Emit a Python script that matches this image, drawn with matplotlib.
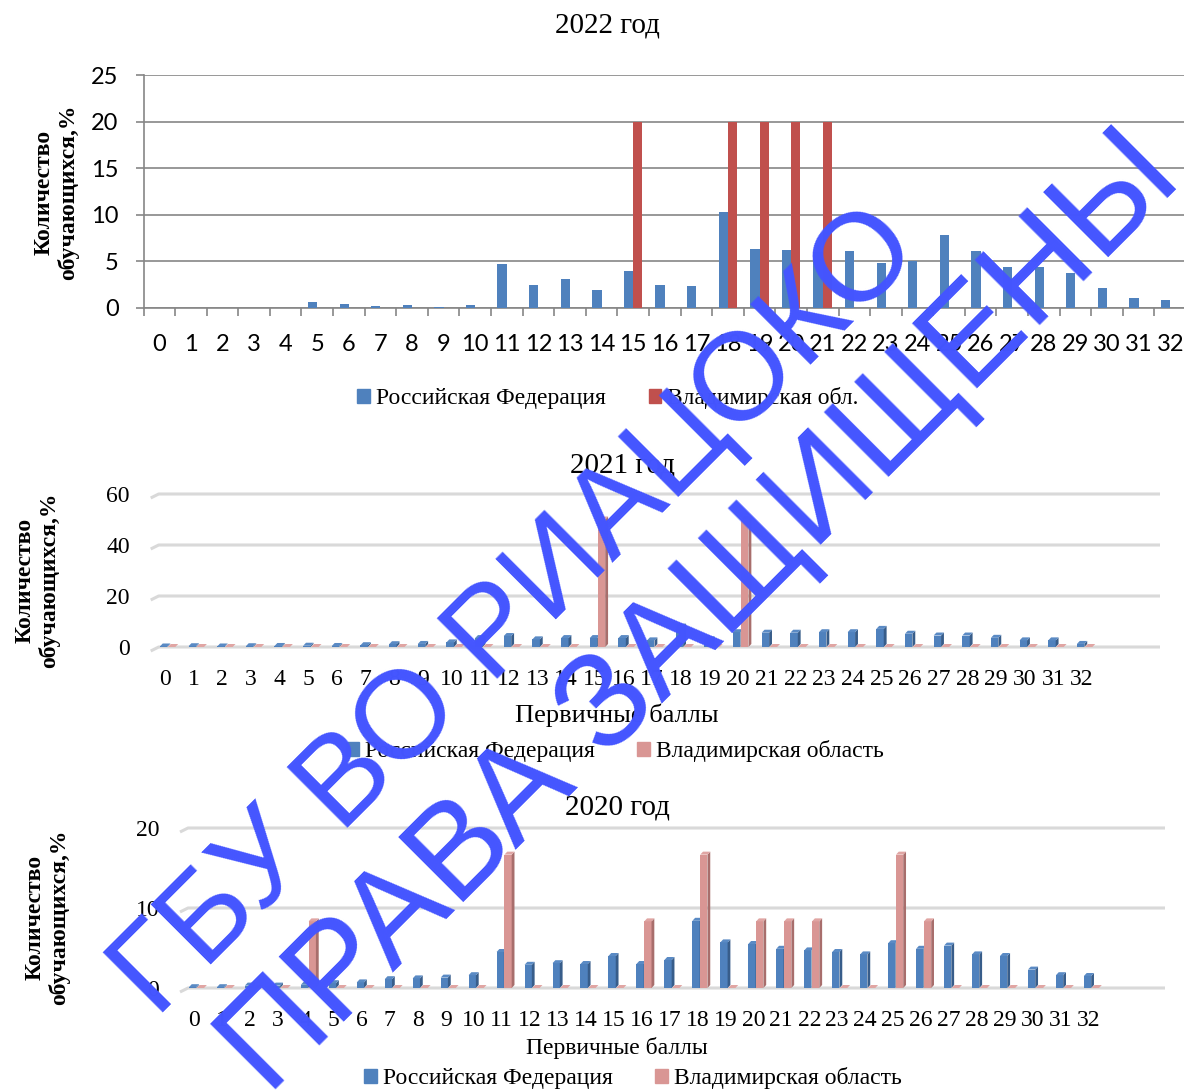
import matplotlib
matplotlib.use("Agg")
import matplotlib.pyplot as plt
from matplotlib.patches import Patch
import numpy as np

# первичные баллы 0..32
scores = list(range(33))

# доля участников, % (РФ и Владимирская область)
rf_2022 = [0, 0, 0, 0, 0, 0.64, 0.46, 0.25, 0.35, 0.14, 0.35, 4.75, 2.46, 3.07, 1.96, 4.0,
           2.42, 2.32, 10.29, 6.36, 6.18, 6.0, 6.14, 4.86, 5.0, 7.79, 6.14, 4.39, 4.39, 3.8,
           2.14, 1.03, 0.86]
vlad_2022 = [0, 0, 0, 0, 0, 0, 0, 0, 0, 0, 0, 0, 0, 0, 0, 20,
             0, 0, 20, 20, 20, 20, 0, 0, 0, 0, 0, 0, 0, 0,
             0, 0, 0]

rf_2021 = [0.2, 0.3, 0.2, 0.3, 0.4, 0.5, 0.4, 0.7, 1.1, 1.2, 1.8, 3.5, 4.3, 3.0, 3.5, 3.5,
           3.5, 2.6, 8.0, 3.0, 5.8, 5.6, 5.6, 5.8, 5.8, 7.1, 5.2, 4.5, 4.5, 3.6,
           2.6, 2.6, 1.2]
vlad_2021 = [0, 0, 0, 0, 0, 0, 0, 0, 0, 0, 0, 0, 0, 0, 0, 50,
             0, 0, 0, 0, 50, 0, 0, 0, 0, 0, 0, 0, 0, 0,
             0, 0, 0]

rf_2020 = [0.1, 0.1, 0.3, 0.3, 0.4, 0.6, 0.7, 1.1, 1.2, 1.3, 1.6, 4.5, 2.9, 3.1, 3.0, 4.0,
           3.0, 3.5, 8.4, 5.7, 5.5, 4.9, 4.7, 4.5, 4.2, 5.6, 4.9, 5.3, 4.2, 4.0,
           2.3, 1.6, 1.5]
vlad_2020 = [0, 0, 0, 0, 8.33, 0, 0, 0, 0, 0, 0, 16.67, 0, 0, 0, 0,
             8.33, 0, 16.67, 0, 8.33, 8.33, 8.33, 0, 0, 16.67, 8.33, 0, 0, 0,
             0, 0, 0]

titles = ["2022 год", "2021 год", "2020 год"]
y_title = "Количество\nобучающихся,%"
x_title = "Первичные баллы"
name_rf = "Российская Федерация"
name_vlad_short = "Владимирская обл."
name_vlad = "Владимирская область"
mark_1 = "ГБУ ВО РИАЦОКО"
mark_2 = "ПРАВА ЗАЩИЩЕНЫ"

SERIF = "Liberation Serif"
BLUE, BLUE_SIDE, BLUE_TOP = "#4F81BD", "#385D8A", "#5A8AC4"
RED = "#C0504D"
PINK, PINK_SIDE, PINK_TOP = "#D99694", "#A86E6C", "#E0A5A3"
MARK = "#4455FF"

W, H = 1184, 1090
fig = plt.figure(figsize=(W / 100, H / 100), dpi=100)


def add_ax(left, top, right, bottom):
    return fig.add_axes([left / W, 1 - bottom / H, (right - left) / W, (bottom - top) / H])


x = np.arange(len(scores))

# ---------- 2022: плоская гистограмма ----------
ax1 = add_ax(143.5, 75, 1186, 308)
w = 0.295
ax1.bar(x - w / 2, rf_2022, w, color=BLUE, zorder=3)
ax1.bar(x + w / 2, vlad_2022, w, color=RED, zorder=3)
ax1.set_xlim(-0.5, 32.5)
ax1.set_ylim(0, 25)
ax1.set_yticks(range(0, 26, 5))
ax1.yaxis.grid(True, color="#868686", lw=1.2)
ax1.set_axisbelow(True)
for s in ["top", "right"]:
    ax1.spines[s].set_visible(False)
for s in ["left", "bottom"]:
    ax1.spines[s].set_color("#868686")
    ax1.spines[s].set_linewidth(1.2)
ax1.set_xticks(x)
ax1.set_xticklabels(scores)
ax1.set_xticks(np.arange(-0.5, 33, 1), minor=True)
ax1.tick_params(axis="x", which="major", length=0, pad=19)
ax1.tick_params(axis="x", which="minor", length=6, color="#868686", width=1.2)
ax1.tick_params(axis="y", length=6, color="#868686", width=1.2, pad=12)
for lab in ax1.get_xticklabels() + ax1.get_yticklabels():
    lab.set_fontfamily("Lato")
    lab.set_fontsize(17)
fig.text(607 / W, 1 - 25 / H, titles[0], family=SERIF, fontsize=21, ha="center", va="center")
fig.text(56 / W, 1 - 192 / H, y_title, family=SERIF, fontsize=17, weight="bold",
         rotation=90, ha="center", va="center", multialignment="center", linespacing=1.15)
fig.legend(handles=[Patch(color=BLUE, label=name_rf), Patch(color=RED, label=name_vlad_short)],
           loc="center", bbox_to_anchor=(608 / W, 1 - 398 / H), ncol=2, frameon=False,
           prop={"family": SERIF, "size": 17}, handlelength=0.55, handleheight=0.55,
           handletextpad=0.25, columnspacing=1.8)


# ---------- 2021 и 2020: объёмные столбцы ----------
def bars_3d(ax, vals, start, width, front, side, top, depth, rise):
    for xi, v in zip(x, vals):
        x0 = xi + start
        x1 = x0 + width
        ax.fill([x0, x1, x1, x0], [0, 0, v, v], color=front, lw=0, zorder=3)
        ax.fill([x1, x1 + depth, x1 + depth, x1], [0, rise, v + rise, v], color=side, lw=0, zorder=3)
        ax.fill([x0, x1, x1 + depth, x0 + depth], [v, v, v + rise, v + rise], color=top, lw=0, zorder=3)


def chart_3d(box, rf, vlad, ymax, ystep, title, title_xy, ylab_xy, xlab_y, xlab_size, leg_xy):
    ax = add_ax(*box)
    xmax = 34.72
    ax.set_xlim(-0.5, xmax)
    ax.set_ylim(0, ymax)
    px_x = (box[2] - box[0]) / (xmax + 0.5)
    px_y = (box[3] - box[1]) / ymax
    for gy in range(0, ymax + 1, ystep):
        ax.plot([-0.5, -0.5 + 8 / px_x, xmax], [gy - 4 / px_y, gy, gy],
                color="#D9D9D9", lw=2.2, zorder=1, clip_on=False, solid_capstyle="butt")
    bars_3d(ax, rf, -0.18, 0.26, BLUE, BLUE_SIDE, BLUE_TOP, 0.1, 3 / px_y)
    bars_3d(ax, vlad, 0.10, 0.26, PINK, PINK_SIDE, PINK_TOP, 0.1, 3 / px_y)
    for s in ax.spines.values():
        s.set_visible(False)
    ax.set_xticks(x)
    ax.set_xticklabels(scores, family=SERIF, fontsize=17)
    ax.set_yticks(range(0, ymax + 1, ystep))
    ax.set_yticklabels(range(0, ymax + 1, ystep), family=SERIF, fontsize=17)
    ax.tick_params(axis="x", length=0, pad=16)
    ax.tick_params(axis="y", length=0, pad=15)
    fig.text(title_xy[0] / W, 1 - title_xy[1] / H, title, family=SERIF, fontsize=21,
             ha="center", va="center")
    fig.text(ylab_xy[0] / W, 1 - ylab_xy[1] / H, y_title, family=SERIF, fontsize=17,
             weight="bold", rotation=90, ha="center", va="center",
             multialignment="center", linespacing=1.15)
    fig.text(617 / W, 1 - xlab_y / H, x_title, family=SERIF, fontsize=xlab_size,
             ha="center", va="center")
    fig.legend(handles=[Patch(color=BLUE, label=name_rf), Patch(color=PINK, label=name_vlad)],
               loc="center", bbox_to_anchor=(leg_xy[0] / W, 1 - leg_xy[1] / H), ncol=2,
               frameon=False, prop={"family": SERIF, "size": 17}, handlelength=0.55,
               handleheight=0.55, handletextpad=0.25, columnspacing=1.8)
    return ax


chart_3d((150.7, 494, 1160, 647), rf_2021, vlad_2021, 60, 20, titles[1], (623, 465),
         (37, 580), 715, 19, (615, 751))
chart_3d((180, 828, 1165, 988), rf_2020, vlad_2020, 20, 10, titles[2], (617, 808),
         (47, 917), 1048, 17, (633, 1078))

# надпись поверх диаграмм
fig.text(517 / W, 1 - 613 / H, mark_1, family="Liberation Sans", fontsize=90, color=MARK,
         rotation=45, rotation_mode="anchor", ha="center", va="center", zorder=10)
fig.text(702 / W, 1 - 615 / H, mark_2, family="Liberation Sans", fontsize=96, color=MARK,
         rotation=45, rotation_mode="anchor", ha="center", va="center", zorder=10)

fig.savefig("out.png", dpi=100)
